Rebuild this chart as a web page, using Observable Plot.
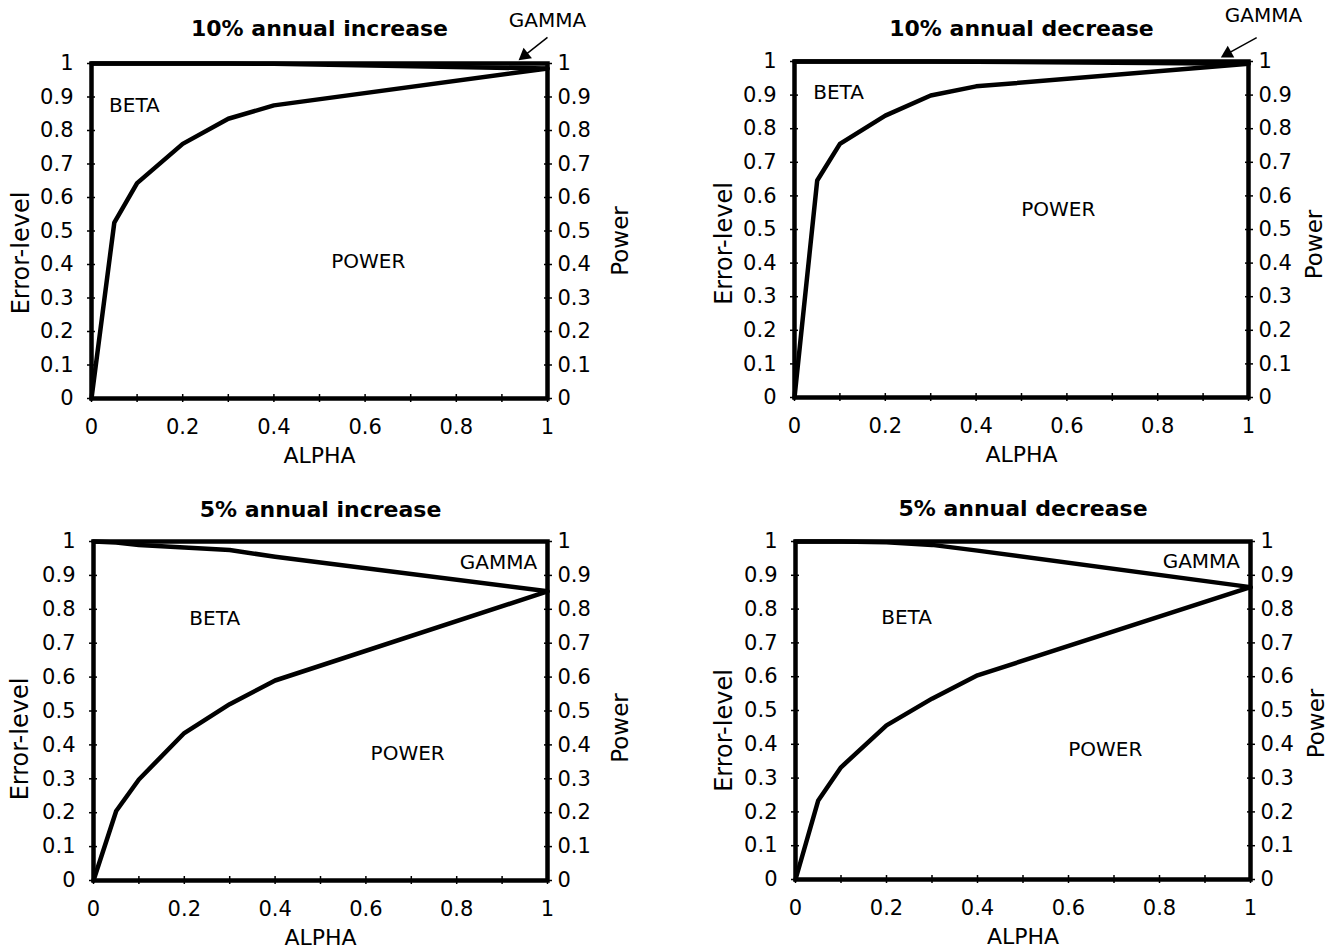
<!DOCTYPE html>
<html>
<head>
<meta charset="utf-8">
<script src="https://cdn.jsdelivr.net/npm/d3@7"></script>
<script src="https://cdn.jsdelivr.net/npm/@observablehq/plot@0.6"></script>
<style>
  html, body { margin: 0; padding: 0; background: #fff; }
  #root { position: relative; width: 1332px; height: 949px; overflow: hidden; background: #fff; }
  #root > div { position: absolute; width: 660px; height: 475px; }
  #root svg { max-width: none !important; }
</style>
</head>
<body>
<div id="root"></div>
<script>
// ---- data ----
const alpha = [0, 0.05, 0.1, 0.2, 0.3, 0.4, 1];

const power10Inc = [0, 0.525, 0.643, 0.76, 0.835, 0.875, 0.985];
const upper10Inc = [1, 1, 1, 1, 1, 0.999, 0.985];

const power10Dec = [0, 0.646, 0.755, 0.839, 0.899, 0.926, 0.993];
const upper10Dec = [1, 1, 1, 1, 1, 0.9995, 0.993];

const power5Inc = [0, 0.205, 0.298, 0.435, 0.52, 0.59, 0.853];
const upper5Inc = [1, 0.997, 0.99, 0.982, 0.975, 0.955, 0.853];

const power5Dec = [0, 0.234, 0.332, 0.456, 0.535, 0.604, 0.865];
const upper5Dec = [1, 1, 1, 0.998, 0.99, 0.973, 0.865];

const titles = ["10% annual increase", "10% annual decrease", "5% annual increase", "5% annual decrease"];
const regionNames = ["BETA", "POWER", "GAMMA"];
const yTicks = [0, 0.1, 0.2, 0.3, 0.4, 0.5, 0.6, 0.7, 0.8, 0.9, 1];
const xMinorTicks = [0, 0.1, 0.2, 0.3, 0.4, 0.5, 0.6, 0.7, 0.8, 0.9, 1];
const xTickLabels = [0, 0.2, 0.4, 0.6, 0.8, 1];
const xLabel = "ALPHA";
const yLabelLeft = "Error-level";
const yLabelRight = "Power";

// ---- annotation placement (data space of each panel) ----
const regionPos = [
  {BETA: [0.094, 0.875], POWER: [0.607, 0.409], GAMMA: [1.0, 1.128]},
  {BETA: [0.097, 0.908], POWER: [0.581, 0.560], GAMMA: [1.033, 1.137]},
  {BETA: [0.267, 0.773], POWER: [0.692, 0.375], GAMMA: [0.892, 0.938]},
  {BETA: [0.244, 0.775], POWER: [0.681, 0.385], GAMMA: [0.892, 0.941]}
];
const gammaArrows = [
  {x1: 1.0, y1: 1.078, x2: 0.950, y2: 1.024, rot: 231.6},
  {x1: 1.018, y1: 1.071, x2: 0.954, y2: 1.0235, rot: 240.9},
  null,
  null
];

// ---- layout of the four panels (pixels) ----
const layout = [
  {left: 0,   top: 0,   ml: 91, mr: 113, mt: 63, mb: 77, titleDy: -35, yl: [-70, 22], yr: [73, 10]},
  {left: 700, top: 0,   ml: 94, mr: 112, mt: 61, mb: 78, titleDy: -33, yl: [-70, 14], yr: [66, 15]},
  {left: 0,   top: 474, ml: 93, mr: 113, mt: 67, mb: 69, titleDy: -32, yl: [-73, 28], yr: [73, 17]},
  {left: 700, top: 474, ml: 95, mr: 110, mt: 67, mb: 70, titleDy: -33, yl: [-71, 20], yr: [66, 13]}
];
const W = 660, H = 475;

const series = [
  [power10Inc, upper10Inc],
  [power10Dec, upper10Dec],
  [power5Inc, upper5Inc],
  [power5Dec, upper5Dec]
];

const root = document.getElementById("root");

series.forEach(([pow, up], i) => {
  const L = layout[i];
  const powerRows = alpha.map((a, k) => ({alpha: a, value: pow[k]}));
  const upperRows = alpha.map((a, k) => ({alpha: a, value: up[k]}));
  const regions = regionNames.map(n => ({name: n, x: regionPos[i][n][0], y: regionPos[i][n][1]}));
  const arrow = gammaArrows[i];

  const marks = [
    Plot.line(upperRows, {x: "alpha", y: "value", strokeWidth: 4.5}),
    Plot.line(powerRows, {x: "alpha", y: "value", strokeWidth: 4.5}),
    Plot.frame({strokeWidth: 4.5}),
    // crossing ticks
    Plot.axisY({anchor: "left", ticks: yTicks, tickSize: 8, dx: 4, tickFormat: () => "", label: null, strokeWidth: 1.5}),
    Plot.axisY({anchor: "right", ticks: yTicks, tickSize: 8, dx: -4, tickFormat: () => "", label: null, strokeWidth: 1.5}),
    Plot.axisX({anchor: "bottom", ticks: xMinorTicks, tickSize: 8, dy: -4, tickFormat: () => "", label: null, strokeWidth: 1.5}),
    // tick labels
    Plot.axisY({anchor: "left", ticks: yTicks, tickSize: 0, tickPadding: 18, tickFormat: d => String(d), label: null, fontSize: 21}),
    Plot.axisY({anchor: "right", ticks: yTicks, tickSize: 0, tickPadding: 10, tickFormat: d => String(d), label: null, fontSize: 21}),
    Plot.axisX({anchor: "bottom", ticks: xTickLabels, tickSize: 0, tickPadding: 21, tickFormat: d => String(d), label: null, fontSize: 21}),
    // titles and axis labels
    Plot.text([titles[i]], {text: d => d, frameAnchor: "top", lineAnchor: "middle", dy: L.titleDy, fontWeight: "bold", fontSize: 22}),
    Plot.text([xLabel], {text: d => d, frameAnchor: "bottom", lineAnchor: "middle", dy: 57, fontSize: 22}),
    Plot.text([yLabelLeft], {text: d => d, frameAnchor: "left", textAnchor: "middle", lineAnchor: "middle", rotate: -90, dx: L.yl[0], dy: L.yl[1], fontSize: 24}),
    Plot.text([yLabelRight], {text: d => d, frameAnchor: "right", textAnchor: "middle", lineAnchor: "middle", rotate: -90, dx: L.yr[0], dy: L.yr[1], fontSize: 23}),
    // region labels
    Plot.text(regions, {x: "x", y: "y", text: "name", fontSize: 20})
  ];
  if (arrow) {
    marks.push(Plot.link([arrow], {x1: "x1", y1: "y1", x2: "x2", y2: "y2", strokeWidth: 1.5}));
    marks.push(Plot.dot([arrow], {x: "x2", y: "y2", symbol: "triangle", r: 5, fill: "black", stroke: "none", rotate: "rot"}));
  }

  const chart = Plot.plot({
    width: W,
    height: H,
    marginLeft: L.ml,
    marginRight: L.mr,
    marginTop: L.mt,
    marginBottom: L.mb,
    x: {domain: [0, 1]},
    y: {domain: [0, 1]},
    style: {fontFamily: "DejaVu Sans", fontSize: "20px", color: "black", background: "transparent", overflow: "visible", maxWidth: "none"},
    marks
  });
  const wrap = document.createElement("div");
  wrap.style.left = L.left + "px";
  wrap.style.top = L.top + "px";
  wrap.appendChild(chart);
  root.appendChild(wrap);
});
</script>
</body>
</html>
